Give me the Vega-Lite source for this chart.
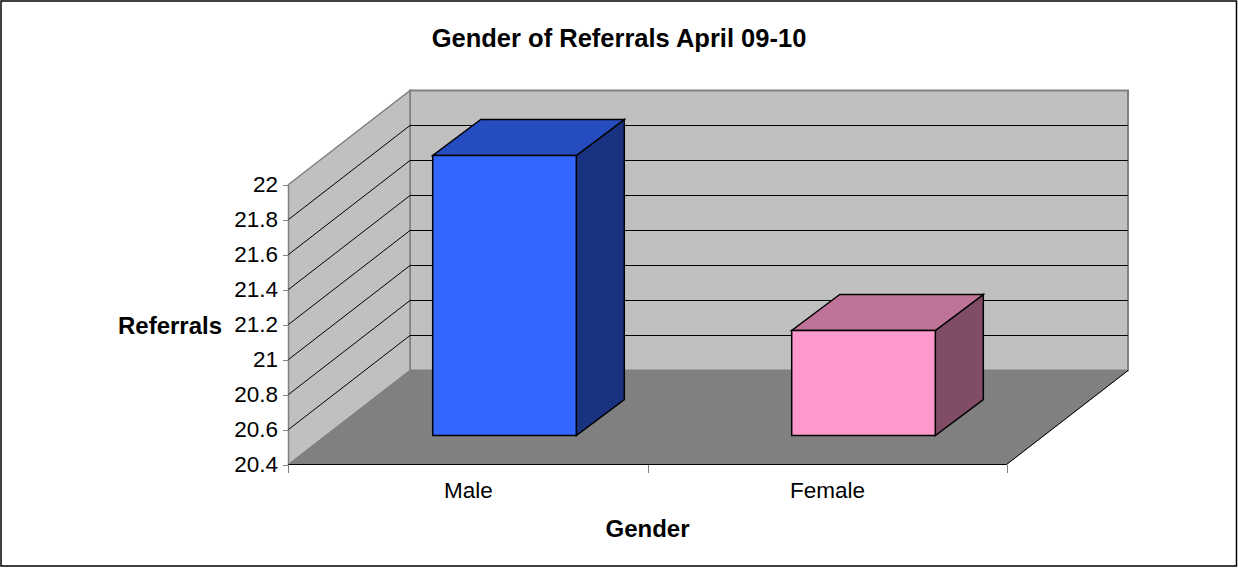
{
"$schema":"https://vega.github.io/schema/vega-lite/v6.json",
"width":1238,"height":568,"autosize":"none","padding":0,"background":"white",
"config":{"view":{"stroke":null},"font":"Liberation Sans"},
"title":{"text":"Gender of Referrals April 09-10","font":"Liberation Sans","fontSize":25.5,"fontWeight":"bold","color":"black","anchor":"middle","frame":"group","offset":-72,"baseline":"alphabetic"},
"datasets":{
"frame":[{"x":-0.8008,"x2":2.6406,"y":23.0486,"y2":19.8200}],
"backWall":[{"x":0.3384,"x2":2.3384,"y":22.5371,"y2":20.9371}],
"leftWall":[{"x":0,"y":22,"y2":20.4},{"x":0.3384,"y":22.5371,"y2":20.9371}],
"floor":[{"y":20.4,"x":0,"x2":2},{"y":20.9371,"x":0.3384,"x2":2.3384}],
"floorEdge":[{"x":0,"y":20.4},{"x":2,"y":20.4},{"x":2.3384,"y":20.9371}],
"grid":[
{"v":20.6,"x":0,"y":20.6},{"v":20.6,"x":0.3384,"y":21.1371},{"v":20.6,"x":2.3384,"y":21.1371},
{"v":20.8,"x":0,"y":20.8},{"v":20.8,"x":0.3384,"y":21.3371},{"v":20.8,"x":2.3384,"y":21.3371},
{"v":21,"x":0,"y":21},{"v":21,"x":0.3384,"y":21.5371},{"v":21,"x":2.3384,"y":21.5371},
{"v":21.2,"x":0,"y":21.2},{"v":21.2,"x":0.3384,"y":21.7371},{"v":21.2,"x":2.3384,"y":21.7371},
{"v":21.4,"x":0,"y":21.4},{"v":21.4,"x":0.3384,"y":21.9371},{"v":21.4,"x":2.3384,"y":21.9371},
{"v":21.6,"x":0,"y":21.6},{"v":21.6,"x":0.3384,"y":22.1371},{"v":21.6,"x":2.3384,"y":22.1371},
{"v":21.8,"x":0,"y":21.8},{"v":21.8,"x":0.3384,"y":22.3371},{"v":21.8,"x":2.3384,"y":22.3371}
],
"bars":[
{"gender":"Male","referrals":22,"base":20.4,"x":0.2986,"x2":0.6986},
{"gender":"Female","referrals":21,"base":20.4,"x":1.2986,"x2":1.6986}
],
"maleSide":[{"x":0.6986,"y":22,"y2":20.4},{"x":0.8323,"y":22.2057,"y2":20.6057}],
"femaleSide":[{"x":1.6986,"y":21,"y2":20.4},{"x":1.8323,"y":21.2057,"y2":20.6057}],
"maleTop":[{"y":22,"x":0.2986,"x2":0.6986},{"y":22.2057,"x":0.4323,"x2":0.8323}],
"femaleTop":[{"y":21,"x":1.2986,"x2":1.6986},{"y":21.2057,"x":1.4323,"x2":1.8323}]
},
"encoding":{
"x":{"field":"x","type":"quantitative","scale":{"domain":[-0.8036,2.6448],"nice":false,"zero":false},
"axis":{"orient":"bottom","offset":-103.5,"grid":false,"domain":false,"values":[0,0.5,1,1.5,2],"tickSize":8,"tickColor":"#808080","tickOpacity":{"expr":"datum.value==0.5||datum.value==1.5?0:1"},
"labelExpr":"datum.value==0.5?'Male':datum.value==1.5?'Female':''","labelFont":"Liberation Sans","labelFontSize":22.5,"labelColor":"black","labelPadding":7,"labelOverlap":false,"labelFlush":false,
"title":"Gender","titleFont":"Liberation Sans","titleFontSize":24,"titleFontWeight":"bold","titleColor":"black","titleX":647,"titleY":65,"titleAnchor":"middle","titleBaseline":"middle"}},
"y":{"field":"y","type":"quantitative","scale":{"domain":[19.8086,23.0543],"nice":false,"zero":false},
"axis":{"orient":"left","offset":-288.5,"grid":false,"domain":false,"values":[20.4,20.6,20.8,21,21.2,21.4,21.6,21.8,22],"format":".3~g","tickSize":6,"tickColor":"#808080","labelFont":"Liberation Sans","labelFontSize":22.5,"labelColor":"black","labelPadding":5,
"title":"Referrals","titleFont":"Liberation Sans","titleFontSize":24,"titleFontWeight":"bold","titleColor":"black","titleAngle":0,"titleX":-119,"titleY":326,"titleAlign":"center","titleBaseline":"middle"}}
},
"layer":[
{"data":{"name":"frame"},"mark":{"type":"rect","fill":null,"stroke":"black","strokeWidth":1.5},"encoding":{"x2":{"field":"x2"},"y2":{"field":"y2"}}},
{"data":{"name":"backWall"},"mark":{"type":"rect","fill":"#C0C0C0","stroke":"#808080","strokeWidth":2},"encoding":{"x2":{"field":"x2"},"y2":{"field":"y2"}}},
{"data":{"name":"leftWall"},"mark":{"type":"area","fill":"#C0C0C0","stroke":"#808080","strokeWidth":1.5},"encoding":{"y2":{"field":"y2"}}},
{"data":{"name":"floor"},"mark":{"type":"area","orient":"horizontal","fill":"#808080","stroke":"#808080","strokeWidth":1},"encoding":{"x2":{"field":"x2"}}},
{"data":{"name":"floorEdge"},"mark":{"type":"line","stroke":"black","strokeWidth":1}},
{"data":{"name":"grid"},"mark":{"type":"line","stroke":"black","strokeWidth":1},"encoding":{"detail":{"field":"v","type":"nominal"}}},
{"data":{"name":"maleSide"},"mark":{"type":"area","fill":"#1A3380","stroke":"black","strokeWidth":1.5,"xOffset":37,"yOffset":-29,"y2Offset":-29},"encoding":{"y2":{"field":"y2"}}},
{"data":{"name":"maleTop"},"mark":{"type":"area","orient":"horizontal","fill":"#264DBF","stroke":"black","strokeWidth":1.5,"xOffset":37,"x2Offset":37,"yOffset":-29},"encoding":{"x2":{"field":"x2"}}},
{"data":{"name":"femaleSide"},"mark":{"type":"area","fill":"#804C66","stroke":"black","strokeWidth":1.5,"xOffset":37,"yOffset":-29,"y2Offset":-29},"encoding":{"y2":{"field":"y2"}}},
{"data":{"name":"femaleTop"},"mark":{"type":"area","orient":"horizontal","fill":"#BF7399","stroke":"black","strokeWidth":1.5,"xOffset":37,"x2Offset":37,"yOffset":-29},"encoding":{"x2":{"field":"x2"}}},
{"data":{"name":"bars"},"mark":{"type":"rect","stroke":"black","strokeWidth":1.5,"xOffset":37,"x2Offset":37,"yOffset":-29,"y2Offset":-29},
"encoding":{"x2":{"field":"x2"},
"y":{"field":"referrals","type":"quantitative","scale":{"domain":[19.8086,23.0543],"nice":false,"zero":false}},
"y2":{"field":"base"},
"fill":{"field":"gender","type":"nominal","scale":{"domain":["Male","Female"],"range":["#3366FF","#FF99CC"]},"legend":null}}}
]
}
